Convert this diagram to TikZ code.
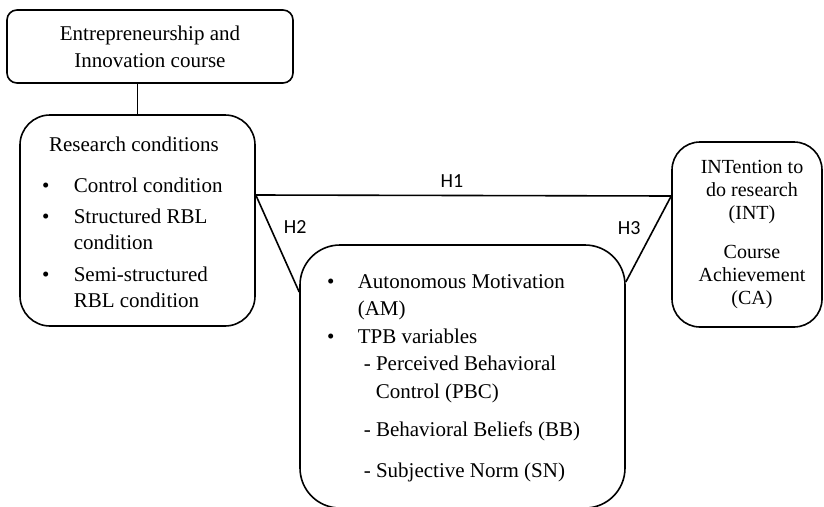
\documentclass[tikz,border=0pt]{standalone}
\usepackage{fontspec}
\setmainfont{Liberation Serif}
\newfontfamily\hfont{Carlito}
\usetikzlibrary{positioning}

\begin{document}
\begin{tikzpicture}[x=1pt,y=-1pt,line width=1.6pt,
    box/.style = {draw, rounded corners=#1, inner sep=0pt},
    txt/.style = {font=\fontsize{21}{26}\selectfont, inner sep=0pt},
    hyp/.style = {font=\hfont\fontsize{20}{22}\selectfont, inner sep=0pt}]
    \useasboundingbox (0,0) rectangle (824,506);
    % boxes
    \node[box=10pt, txt, align=center, minimum width=286pt, minimum height=73pt] (course) at (150,46.5) {Entrepreneurship and\\[1pt]Innovation course};
    \node[box=30pt, minimum width=235pt, minimum height=211pt] (cond) at (137.5,220.5) {};
    \node[box=40pt, minimum width=325pt, minimum height=263pt] (mot) at (462.5,376.5) {};
    \node[box=28pt, minimum width=150pt, minimum height=185pt] (outc) at (747,234.5) {};
    % box texts
    \node[txt, anchor=base] (condtitle) at (134,151) {Research conditions};
    \node[txt, anchor=base west] (condlist) at (38,192) {\begin{tabular}[t]{@{}l@{\hspace{21pt}}l@{}}
        \makebox[14pt]{\textbullet} & Control condition\\[5pt]
        \makebox[14pt]{\textbullet} & Structured RBL\\
        & condition\\[6pt]
        \makebox[14pt]{\textbullet} & Semi-structured\\
        & RBL condition
    \end{tabular}};
    \node[txt, font=\fontsize{21}{27.5}\selectfont, anchor=base west] (motlist) at (323,288) {\begin{tabular}[t]{@{}l@{\hspace{20pt}}l@{}}
        \makebox[14pt]{\textbullet} & Autonomous Motivation\\
        & (AM)\\
        \makebox[14pt]{\textbullet} & TPB variables\\
        & \hspace{6pt}- Perceived Behavioral\\
        & \hspace{18pt}Control (PBC)\\[11pt]
        & \hspace{6pt}- Behavioral Beliefs (BB)\\[13pt]
        & \hspace{6pt}- Subjective Norm (SN)
    \end{tabular}};
    \node[txt, font=\fontsize{20}{23}\selectfont, anchor=base] (outtext) at (752,173) {\begin{tabular}[t]{@{}c@{}}
        INTention to\\do research\\(INT)\\[16pt]Course\\Achievement\\(CA)
    \end{tabular}};
    % connectors
    \path
        (cond.north |- course.south) edge (cond.north)
        ([yshift=25.5pt]cond.east) edge node[hyp, pos=.472, above=7pt] {H1} ([yshift=38.5pt]outc.west)
        ([yshift=25.5pt]cond.east) edge node[hyp, pos=.33, right=13pt] {H2} ([yshift=84.5pt]mot.west)
        ([yshift=38.5pt]outc.west) edge node[hyp, pos=.372, left=13pt] {H3} ([yshift=94.5pt]mot.east);
\end{tikzpicture}
\end{document}
